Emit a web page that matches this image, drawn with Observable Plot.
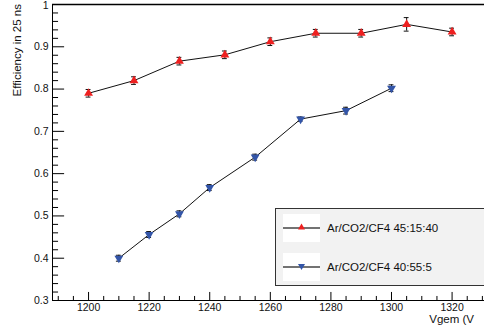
<!DOCTYPE html>
<html>
<head>
<meta charset="utf-8">
<script src="https://cdn.jsdelivr.net/npm/d3@7"></script>
<script src="https://cdn.jsdelivr.net/npm/@observablehq/plot@0.6"></script>
<style>
  html, body { margin: 0; padding: 0; background: #fff; }
  #wrap { position: relative; width: 484px; height: 331px; overflow: hidden; font-family: "Liberation Sans", Arial, sans-serif; }
  #legend { position: absolute; left: 275px; top: 208px; width: 220px; height: 78px; background: #f2f2f2; border: 1px solid #333; box-sizing: border-box; }
  .entry { position: absolute; left: 7px; width: 37px; height: 28px; background: #fff; }
  .ltext { position: absolute; left: 51px; font-size: 11.5px; color: #111; line-height: 14px; }
  #ytitle { position: absolute; left: 0; top: 0; }
  #xtitle { position: absolute; right: 10px; top: 313px; font-size: 11.5px; color: #111; }
</style>
</head>
<body>
<div id="wrap"></div>
<script>
// ---- data ----
const redX = [1200, 1215, 1230, 1245, 1260, 1275, 1290, 1305, 1320];
const redY = [0.790, 0.820, 0.866, 0.881, 0.912, 0.932, 0.932, 0.953, 0.935];
const redErr = [0.009, 0.009, 0.009, 0.009, 0.009, 0.009, 0.009, 0.016, 0.009];
const blueX = [1210, 1220, 1230, 1240, 1255, 1270, 1285, 1300];
const blueY = [0.400, 0.456, 0.505, 0.567, 0.639, 0.729, 0.749, 0.802];
const blueErr = [0.007, 0.007, 0.007, 0.007, 0.007, 0.005, 0.008, 0.008];
const seriesNames = ["Ar/CO2/CF4 45:15:40", "Ar/CO2/CF4 40:55:5"];
const xMajor = [1200, 1220, 1240, 1260, 1280, 1300, 1320];
const yMajor = [0.3, 0.4, 0.5, 0.6, 0.7, 0.8, 0.9, 1.0];
const yTitle = "Efficiency in 25 ns";
const xTitle = "Vgem (V";

const xDomain = [1188.1, 1330.7];
const yDomain = [0.3, 1.0];
const xMinor = d3.range(1190, 1331, 5).filter(v => v % 20 !== 0);
const yMinor = d3.range(0.32, 1.0, 0.02).map(v => +v.toFixed(2)).filter(v => Math.abs(v * 10 - Math.round(v * 10)) > 1e-6);

const red = redX.map((x, i) => ({x, y: redY[i], e: redErr[i]}));
const blue = blueX.map((x, i) => ({x, y: blueY[i], e: blueErr[i]}));

const invTriangle = {
  draw(context, size) {
    const sqrt3 = Math.sqrt(3);
    const y = -Math.sqrt(size / (sqrt3 * 3));
    context.moveTo(0, -y * 2);
    context.lineTo(-sqrt3 * y, y);
    context.lineTo(sqrt3 * y, y);
    context.closePath();
  }
};

const RED = "#ee2020", BLUE = "#3355a8";
const x0 = xDomain[0], y0 = yDomain[0];
const fmt = d => String(+d.toFixed(2));

function errMarks(data) {
  return [
    Plot.ruleX(data, {x: "x", y1: d => d.y - d.e, y2: d => d.y + d.e, stroke: "#111", strokeWidth: 1}),
    Plot.ruleY(data, {y: d => d.y - d.e, x1: d => d.x - 0.8, x2: d => d.x + 0.8, stroke: "#111", strokeWidth: 1}),
    Plot.ruleY(data, {y: d => d.y + d.e, x1: d => d.x - 0.8, x2: d => d.x + 0.8, stroke: "#111", strokeWidth: 1})
  ];
}

const chart = Plot.plot({
  width: 484,
  height: 331,
  marginLeft: 52,
  marginTop: 4,
  marginBottom: 31,
  marginRight: 0,
  x: {domain: xDomain},
  y: {domain: yDomain},
  style: {fontFamily: "'Liberation Sans', Arial, sans-serif", fontSize: "10.5px", color: "#111", background: "transparent", overflow: "visible"},
  marks: [
    // frame
    Plot.ruleY([1.0], {stroke: "#000", strokeWidth: 1.3}),
    Plot.ruleY([0.3], {stroke: "#000", strokeWidth: 1}),
    Plot.ruleX([x0], {stroke: "#000", strokeWidth: 1}),
    // ticks (inside)
    Plot.ruleY(yMajor, {y: d => d, x1: x0, x2: x0 + 4, stroke: "#000"}),
    Plot.ruleY(yMinor, {y: d => d, x1: x0, x2: x0 + 2, stroke: "#000"}),
    Plot.ruleX(xMajor, {x: d => d, y1: y0, y2: y0 + 0.019, stroke: "#000"}),
    Plot.ruleX(xMinor, {x: d => d, y1: y0, y2: y0 + 0.0095, stroke: "#000"}),
    Plot.axisY(yMajor.filter(v => v < 1), {tickSize: 0, tickPadding: 4, label: null, tickFormat: fmt}),
    Plot.axisY(yMajor.filter(v => v >= 1), {tickSize: 0, tickPadding: 4, label: null, tickFormat: fmt, dy: 1.5}),
    Plot.axisX(xMajor, {tickSize: 0, tickPadding: 3, label: null, tickFormat: d => String(d)}),
    // series
    Plot.line(red, {x: "x", y: "y", stroke: "#111", strokeWidth: 1}),
    Plot.line(blue, {x: "x", y: "y", stroke: "#111", strokeWidth: 1}),
    ...errMarks(red),
    ...errMarks(blue),
    Plot.dot(red, {x: "x", y: "y", symbol: "triangle", r: 3.3, fill: RED, stroke: "none"}),
    Plot.dot(blue, {x: "x", y: "y", symbol: invTriangle, r: 3.3, fill: BLUE, stroke: "none"})
  ]
});

const wrap = document.getElementById("wrap");
wrap.appendChild(chart);

// y title
const ns = "http://www.w3.org/2000/svg";
const ysvg = document.createElementNS(ns, "svg");
ysvg.setAttribute("id", "ytitle");
ysvg.setAttribute("width", "30");
ysvg.setAttribute("height", "120");
const yt = document.createElementNS(ns, "text");
yt.setAttribute("transform", "translate(20.5,4) rotate(-90)");
yt.setAttribute("text-anchor", "end");
yt.setAttribute("font-family", "'Liberation Sans', Arial, sans-serif");
yt.setAttribute("font-size", "11.5");
yt.setAttribute("fill", "#111");
yt.textContent = yTitle;
ysvg.appendChild(yt);
wrap.appendChild(ysvg);

// x title
const xt = document.createElement("div");
xt.id = "xtitle";
xt.textContent = xTitle;
wrap.appendChild(xt);

// legend
const leg = document.createElement("div");
leg.id = "legend";
const entries = [
  {name: seriesNames[0], color: RED, up: true, top: 5},
  {name: seriesNames[1], color: BLUE, up: false, top: 44}
];
entries.forEach(e => {
  const box = document.createElement("div");
  box.className = "entry";
  box.style.top = e.top + "px";
  const pts = e.up ? "18.5,9.5 15,15.5 22,15.5" : "15,11 22,11 18.5,17";
  box.innerHTML = `<svg width="37" height="28"><line x1="0" x2="37" y1="14" y2="14" stroke="#444" stroke-width="1.3"/><polygon points="${pts}" fill="${e.color}"/></svg>`;
  leg.appendChild(box);
  const t = document.createElement("div");
  t.className = "ltext";
  t.style.top = (e.top + 7) + "px";
  t.textContent = e.name;
  leg.appendChild(t);
});
wrap.appendChild(leg);
</script>
</body>
</html>
